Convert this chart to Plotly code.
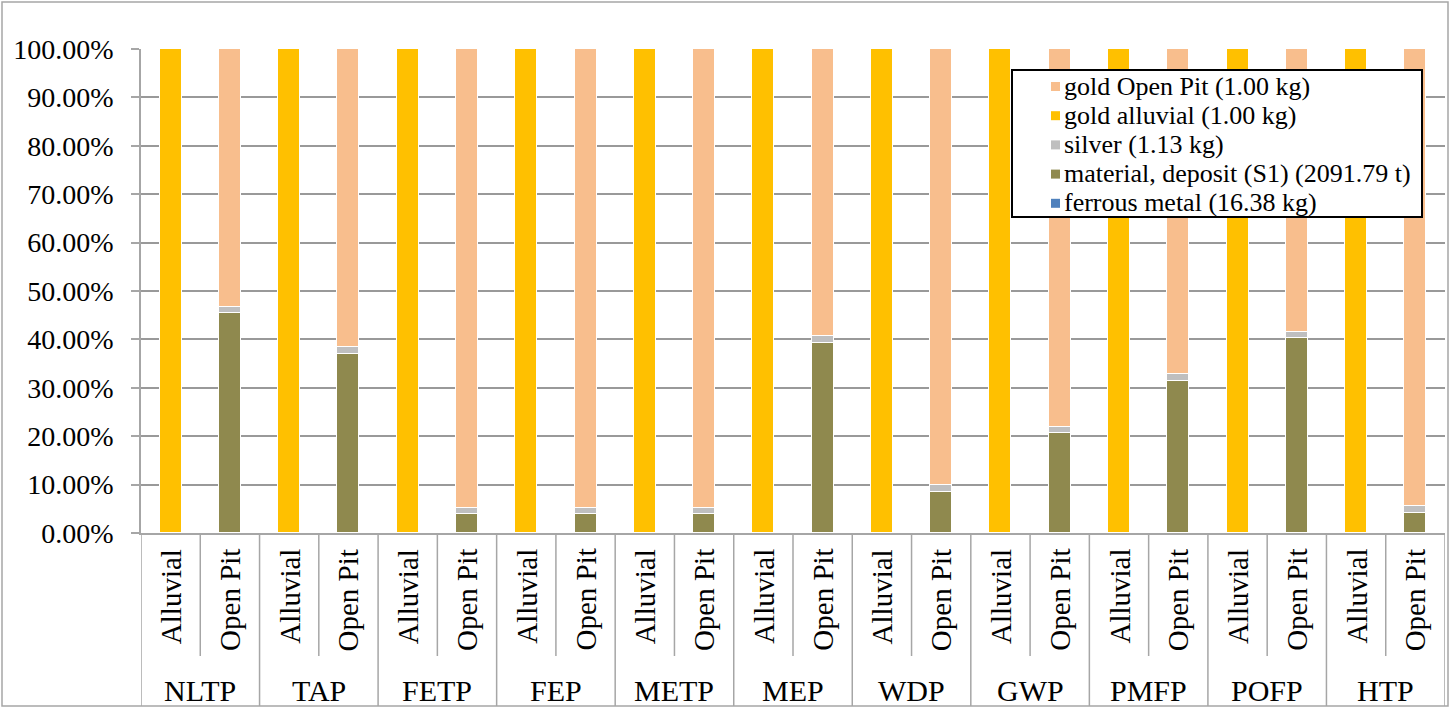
import plotly.graph_objects as go

groups = ["NLTP", "TAP", "FETP", "FEP", "METP", "MEP", "WDP", "GWP", "PMFP", "POFP", "HTP"]
subcats = ["Alluvial", "Open Pit"]

# Open Pit bar composition (% of total)
ferrous_op = [0.05, 0.05, 0.05, 0.05, 0.05, 0.05, 0.05, 0.05, 0.05, 0.05, 0.05]
material_op = [45.5, 37.0, 3.8, 3.8, 3.8, 39.3, 8.5, 20.7, 31.4, 40.2, 4.0]
silver_op = [1.2, 1.3, 1.4, 1.4, 1.4, 1.3, 1.3, 1.2, 1.3, 1.2, 1.5]
gold_open_pit = [53.25, 61.65, 94.75, 94.75, 94.75, 59.35, 90.15, 78.05, 67.25, 58.55, 94.45]
# Alluvial bar composition
gold_alluvial = [100.0] * 11

legend_order = ["gop", "gal", "sil", "mat", "fer"]
legend_names = {
    "gop": "gold Open Pit (1.00 kg)",
    "gal": "gold alluvial (1.00 kg)",
    "sil": "silver (1.13 kg)",
    "mat": "material, deposit (S1) (2091.79 t)",
    "fer": "ferrous metal (16.38 kg)",
}
colors = {
    "gop": "#F8BE8D",
    "gal": "#FFC000",
    "sil": "#BFBFBF",
    "mat": "#8F894E",
    "fer": "#4F81BD",
}

FONT = "Liberation Serif"
n = len(groups)
x_alluvial = [2 * i for i in range(n)]
x_openpit = [2 * i + 1 for i in range(n)]

fig = go.Figure()
bar_w = 0.37
line = dict(color="white", width=1)

def add(name_key, xs, ys):
    fig.add_trace(go.Bar(
        x=xs, y=ys, name=legend_names[name_key], width=bar_w,
        marker=dict(color=colors[name_key], line=line),
        showlegend=False,
    ))

add("fer", x_openpit, ferrous_op)
add("mat", x_openpit, material_op)
add("sil", x_openpit, silver_op)
add("gal", x_alluvial, gold_alluvial)
add("gop", x_openpit, gold_open_pit)

L, R, T, B = 141, 7, 49, 175
W, H = 1452, 708
pw = W - L - R
ph = H - T - B

def py(p):
    return (H - B - p) / ph

def pxx(p):
    return (p - L) / pw

shapes = []
grid_c = "#A6A6A6"
# table lines under the axis
for b in range(2 * n + 1):
    xb = b - 0.5
    y0 = py(656) if b % 2 == 1 else py(706)
    shapes.append(dict(type="line", xref="x", yref="paper", x0=xb, x1=xb,
                       y0=0, y1=y0, line=dict(color=grid_c, width=1.5)))
# outer border
shapes.append(dict(type="rect", xref="paper", yref="paper",
                   x0=pxx(2), x1=pxx(1448), y0=py(706), y1=py(2),
                   line=dict(color=grid_c, width=1.5)))

annotations = []
for i, g in enumerate(groups):
    for j, s in enumerate(subcats):
        annotations.append(dict(x=2 * i + j, y=py(547), xref="x", yref="paper",
                                text=s, textangle=-90, showarrow=False,
                                xanchor="center", yanchor="top",
                                font=dict(family=FONT, size=29, color="black")))
    annotations.append(dict(x=2 * i + 0.5, y=py(690), xref="x", yref="paper",
                            text=g, showarrow=False, xanchor="center", yanchor="middle",
                            font=dict(family=FONT, size=30, color="black")))

# legend box (drawn so that row spacing matches the original)
lg_x0, lg_x1, lg_y0, lg_y1 = 1012, 1422, 70, 217
shapes.append(dict(type="rect", xref="paper", yref="paper",
                   x0=pxx(lg_x0), x1=pxx(lg_x1), y0=py(lg_y1), y1=py(lg_y0),
                   fillcolor="white", line=dict(color="black", width=2), layer="above"))
row0, row_step = 86, 29.2
for k, key in enumerate(legend_order):
    yc = row0 + k * row_step
    shapes.append(dict(type="rect", xref="paper", yref="paper",
                       x0=pxx(1051), x1=pxx(1060), y0=py(yc + 5), y1=py(yc - 4),
                       fillcolor=colors[key], line=dict(width=0), layer="above"))
    annotations.append(dict(x=pxx(1062), y=py(yc), xref="paper", yref="paper",
                            text=legend_names[key], showarrow=False,
                            xanchor="left", yanchor="middle",
                            font=dict(family=FONT, size=26, color="black")))

fig.update_layout(
    width=W, height=H,
    margin=dict(l=L, r=R, t=T, b=B, pad=0),
    barmode="stack",
    bargap=0,
    plot_bgcolor="white", paper_bgcolor="white",
    font=dict(family=FONT, color="black"),
    shapes=shapes, annotations=annotations,
    showlegend=False,
    xaxis=dict(range=[-0.5, 2 * n - 0.5], showticklabels=False, showgrid=False,
               zeroline=False, showline=True, linecolor=grid_c, linewidth=1.5,
               ticks=""),
    yaxis=dict(range=[0, 100], dtick=10, tickformat=".2f", ticksuffix="%",
               showgrid=True, gridcolor="#999999", gridwidth=1.5,
               zeroline=False, showline=True, linecolor=grid_c, linewidth=1.5,
               ticks="outside", ticklen=8, tickcolor=grid_c, tickwidth=1.5,
               ticklabelstandoff=12,
               tickfont=dict(family=FONT, size=28, color="black")),
)

fig.write_html("out.html", config={"displayModeBar": False},
               post_script="document.body.style.margin='0';document.body.style.overflow='hidden';")
